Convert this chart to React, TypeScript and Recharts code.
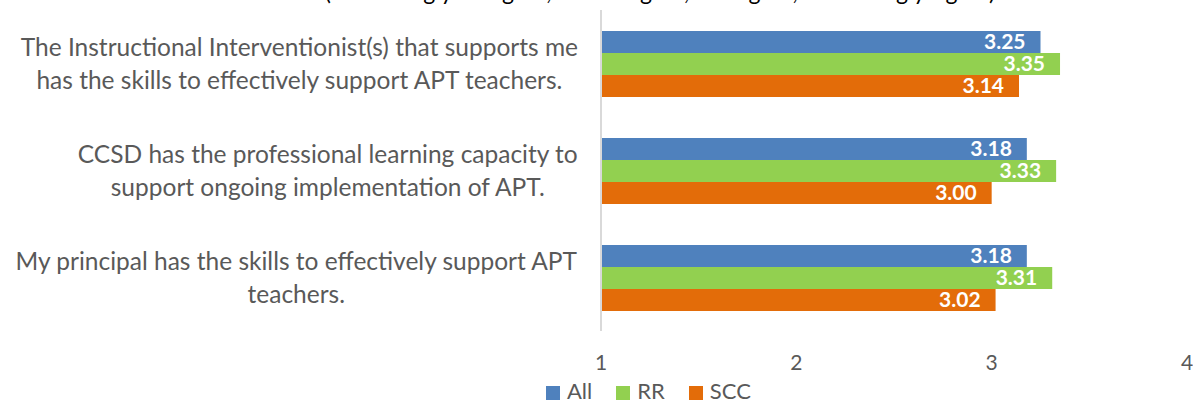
import React from 'react';
import { BarChart, Bar, XAxis, YAxis, LabelList, Legend } from 'recharts';

const categories = [
  'The Instructional Interventionist(s) that supports me\nhas the skills to effectively support APT teachers.',
  'CCSD has the professional learning capacity to\nsupport ongoing implementation of APT.',
  'My principal has the skills to effectively support APT\nteachers.',
];
const allValues = [3.25, 3.18, 3.18];
const rrValues = [3.35, 3.33, 3.31];
const sccValues = [3.14, 3.0, 3.02];
const seriesNames = ['All', 'RR', 'SCC'];
const seriesColors = ['#4F81BD', '#92D050', '#E36C09'];
const xTicks = [1, 2, 3, 4];
const titleText = '(1 = Strongly Disagree, 2 = Disagree, 3 = Agree, 4 = Strongly Agree)';

const data = categories.map((c, i) => ({
  category: c,
  All: allValues[i],
  RR: rrValues[i],
  SCC: sccValues[i],
}));

const FONT = 'Lato, "Open Sans", sans-serif';
const TEXT_COLOR = '#595959';
const CAT_FS = 24.5;

let measureCtx: CanvasRenderingContext2D | null = null;
function measure(text: string, font: string): number {
  if (!measureCtx) {
    const c = document.createElement('canvas');
    measureCtx = c.getContext('2d');
  }
  if (!measureCtx) return text.length * 10;
  measureCtx.font = font;
  return measureCtx.measureText(text).width;
}

const CategoryTick = (props: any) => {
  const { x, y, payload } = props;
  const lines: string[] = String(payload.value).split('\n');
  const font = `${CAT_FS}px Lato`;
  const maxW = Math.max(...lines.map((l) => measure(l, font)));
  const right = x - 15;
  const cx = right - maxW / 2;
  const lh = 33;
  const startY = y - ((lines.length - 1) * lh) / 2;
  return (
    <text textAnchor="middle" fill={TEXT_COLOR} fontFamily={FONT} fontSize={CAT_FS}>
      {lines.map((l, i) => (
        <tspan key={i} x={cx} y={startY + i * lh} dy="0.35em">
          {l}
        </tspan>
      ))}
    </text>
  );
};

const LegendContent = () => (
  <div
    style={{
      display: 'flex',
      alignItems: 'center',
      fontFamily: FONT,
      fontSize: 22,
      color: TEXT_COLOR,
      lineHeight: '22px',
      whiteSpace: 'nowrap',
    }}
  >
    {seriesNames.map((n, i) => (
      <div key={n} style={{ display: 'flex', alignItems: 'center', marginRight: 24 }}>
        <span
          style={{
            display: 'inline-block',
            width: 14,
            height: 14,
            background: seriesColors[i],
            marginRight: 7,
            marginTop: 3,
          }}
        />
        <span>{n}</span>
      </div>
    ))}
  </div>
);

export default function App() {
  return (
    <div style={{ position: 'absolute', left: 0, top: 0, width: 1193, height: 402, background: '#fff' }}>
      <BarChart
        width={1193}
        height={402}
        data={data}
        layout="vertical"
        margin={{ top: 10, right: 6, bottom: 0, left: 0 }}
        barGap={0}
      >
        <XAxis
          type="number"
          domain={[1, 4]}
          ticks={xTicks}
          axisLine={false}
          tickLine={false}
          tickSize={0}
          tickMargin={24}
          height={71}
          interval={0}
          tick={{ fill: TEXT_COLOR, fontSize: 21, fontFamily: FONT }}
        />
        <YAxis
          type="category"
          dataKey="category"
          width={601}
          axisLine={{ stroke: '#D9D9D9', strokeWidth: 2 }}
          tickLine={false}
          tick={<CategoryTick />}
          interval={0}
        />
        <Legend
          layout="horizontal"
          verticalAlign="middle"
          align="center"
          content={<LegendContent />}
          wrapperStyle={{ left: 546, top: 380, width: 'auto' }}
        />
        {seriesNames.map((n, i) => (
          <Bar key={n} dataKey={n} fill={seriesColors[i]} barSize={22} isAnimationActive={false}>
            <LabelList
              dataKey={n}
              position="insideRight"
              offset={15}
              fill="#FFFFFF"
              fontFamily={FONT}
              fontWeight="bold"
              fontSize={21}
              formatter={(v: any) => Number(v).toFixed(2)}
            />
          </Bar>
        ))}
      </BarChart>
      <svg width={1193} height={10} style={{ position: 'absolute', left: 0, top: 0, pointerEvents: 'none' }}>
        <text x={660} y={0} textAnchor="middle" fill="#000" fontFamily={FONT} fontSize={23}>
          {titleText}
        </text>
      </svg>
    </div>
  );
}
